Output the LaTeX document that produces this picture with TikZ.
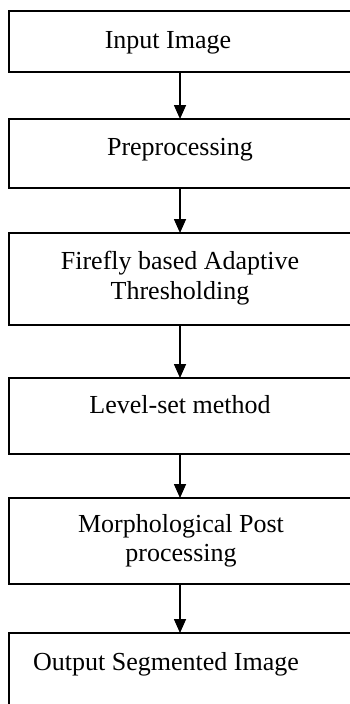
\documentclass[tikz,border=0pt]{standalone}
\usepackage{fontspec}
\setmainfont{Liberation Serif}
\usetikzlibrary{arrows.meta}
\begin{document}
\begin{tikzpicture}[x=1pt,y=1pt,
  box/.style={draw=black, line width=1.6pt, rectangle, minimum width=342pt, inner sep=0pt, outer sep=0pt},
  lbl/.style={inner sep=0pt, anchor=base, font=\fontsize{26}{30}\selectfont},
  flow/.style={line width=1.6pt, -{Triangle[width=12pt,length=14pt]}}]
\useasboundingbox (0,0) rectangle (350,-704);
\clip (0,0) rectangle (350,-704);
\fill[white] (0,0) rectangle (350,-704);
\node[box, minimum height=61pt] (b1) at (180,-41.5) {};
\node[box, minimum height=69pt] (b2) at (180,-153.5) {};
\node[box, minimum height=92pt] (b3) at (180,-279) {};
\node[box, minimum height=76pt] (b4) at (180,-416) {};
\node[box, minimum height=86pt] (b5) at (180,-541) {};
\node[box, minimum height=90pt] (b6) at (180,-678) {};
\node[lbl] (t1) at (168,-48) {Input Image};
\node[lbl] (t2) at (180,-155) {Preprocessing};
\node[lbl] (t3a) at (180,-269) {Firefly based Adaptive};
\node[lbl] (t3b) at (180,-299) {Thresholding};
\node[lbl] (t4) at (180,-413) {Level-set method};
\node[lbl] (t5a) at (181,-532) {Morphological Post};
\node[lbl] (t5b) at (181,-561) {processing};
\node[lbl] (t6) at (166,-670) {Output Segmented Image};
\draw[flow] (b1.south) -- (b2.north);
\draw[flow] (b2.south) -- (b3.north);
\draw[flow] (b3.south) -- (b4.north);
\draw[flow] (b4.south) -- (b5.north);
\draw[flow] (b5.south) -- (b6.north);
\end{tikzpicture}
\end{document}
